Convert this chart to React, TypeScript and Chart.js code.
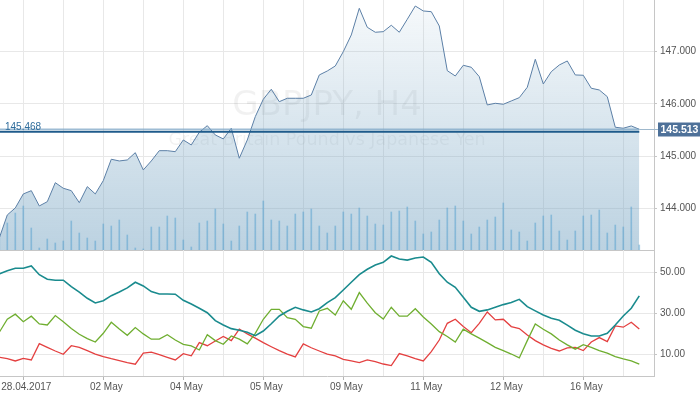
import React, { useEffect, useRef } from 'react';
import { Chart, registerables } from 'chart.js';
Chart.register(...registerables);

// ---- data ----
const xLabels = ['28.04.2017', '02 May', '04 May', '05 May', '09 May', '11 May', '12 May', '16 May'];
const xLabelIdx = [3, 13, 23, 33, 43, 53, 63, 73];
const xGridIdx = [3, 8, 13, 18, 23, 28, 33, 38, 43, 48, 53, 58, 63, 68, 73, 78];
const priceTicks = [144, 145, 146, 147];
const indTicks = [10, 30, 50];

const prices = [
  143.431, 143.872, 144.006, 144.274, 144.337, 144.044, 144.126, 144.49, 144.383, 144.337,
  144.107, 144.414, 144.274, 144.529, 144.939, 144.906, 144.925, 145.065, 144.734, 144.906,
  145.103, 145.103, 145.084, 145.308, 145.213, 145.456, 145.582, 145.404, 145.328, 145.533,
  144.958, 145.308, 145.755, 146.088, 146.28, 146.042, 146.107, 146.107, 146.107, 146.17,
  146.554, 146.63, 146.726, 147.0, 147.32, 147.831, 147.467, 147.372, 147.383, 147.506,
  147.372, 147.621, 147.875, 147.78, 147.766, 147.492, 146.636, 146.534, 146.739, 146.701,
  146.521, 145.979, 146.011, 145.992, 146.056, 146.119, 146.318, 146.854, 146.381, 146.617,
  146.745, 146.822, 146.554, 146.548, 146.299, 146.266, 146.138, 145.552, 145.533, 145.577,
  145.513,
];

const volumes = [
  1500, 1620, 2220, 2640, 1320, 120, 660, 420, 540, 1740,
  1020, 720, 540, 1560, 1440, 1800, 900, 120, 60, 1380,
  1380, 2040, 1920, 600, 180, 1620, 1740, 2460, 1560, 540,
  1440, 2280, 2160, 2940, 1800, 1740, 1440, 2160, 2280, 2460,
  1440, 1020, 1440, 2280, 2160, 2520, 2040, 1560, 1500, 2280,
  2340, 2580, 1740, 960, 1080, 1800, 2520, 2640, 1740, 960,
  1380, 1800, 1980, 2820, 1200, 1080, 540, 1620, 2040, 2100,
  1140, 600, 1140, 2040, 2100, 2400, 1020, 1500, 1380, 2580,
  300,
];

const adx = [
  49.4, 51.0, 52.2, 52.2, 53.3, 49.0, 46.8, 46.3, 46.3, 43.1,
  40.4, 37.4, 35.1, 36.2, 38.7, 40.5, 42.5, 45.3, 43.5, 40.7,
  39.5, 39.5, 39.4, 36.4, 34.6, 32.5, 30.3, 26.4, 24.3, 22.5,
  21.7, 20.7, 19.0, 21.3, 24.9, 28.7, 31.0, 33.0, 31.7, 30.7,
  32.3, 35.3, 37.7, 41.5, 45.3, 49.0, 51.7, 53.8, 55.1, 58.2,
  56.7, 56.2, 57.2, 57.7, 55.1, 49.5, 45.3, 42.8, 37.9, 33.0,
  31.0, 31.7, 33.0, 34.3, 35.3, 36.9, 33.3, 31.2, 29.2, 27.6,
  26.6, 24.2, 21.7, 20.0, 18.9, 18.9, 20.2, 24.3, 28.7, 32.5,
  38.6,
];

const plusDI = [
  20.7, 27.1, 29.6, 25.9, 28.6, 24.8, 24.3, 28.9, 25.9, 22.5,
  19.7, 17.6, 15.9, 20.2, 25.6, 22.3, 19.2, 23.0, 19.9, 17.3,
  17.3, 19.5, 16.9, 14.8, 14.0, 12.0, 19.5, 16.6, 14.8, 18.9,
  17.3, 15.0, 20.2, 27.1, 32.0, 32.0, 27.9, 27.1, 23.5, 22.7,
  31.2, 32.5, 29.2, 36.2, 32.0, 40.2, 35.0, 30.3, 27.2, 33.0,
  28.6, 28.6, 32.3, 28.2, 24.8, 21.0, 18.6, 15.9, 22.2, 19.9,
  17.8, 15.6, 13.3, 11.7, 10.0, 8.1, 16.6, 24.8, 22.2, 19.9,
  16.9, 14.5, 12.4, 14.6, 13.3, 11.7, 10.4, 8.7, 7.6, 6.6,
  5.0,
];

const minusDI = [
  8.4, 7.7, 6.6, 7.9, 7.1, 15.1, 13.3, 11.5, 9.9, 14.1,
  13.3, 11.7, 10.0, 8.7, 7.7, 6.8, 5.8, 5.0, 10.4, 10.9,
  9.7, 8.4, 7.1, 10.2, 9.1, 15.6, 14.1, 16.4, 18.6, 16.6,
  22.3, 19.9, 17.8, 15.6, 13.6, 11.7, 10.0, 8.6, 15.0, 13.1,
  11.5, 10.0, 9.1, 7.4, 6.6, 5.8, 7.1, 6.3, 5.1, 4.3,
  10.2, 9.1, 7.7, 6.6, 11.2, 16.9, 25.1, 27.1, 23.5, 20.5,
  25.1, 30.7, 26.8, 27.1, 23.5, 22.5, 19.4, 16.6, 14.5, 12.8,
  11.5, 13.0, 13.3, 11.7, 15.9, 18.1, 16.1, 23.8, 23.2, 25.6,
  22.3,
];

const lastPrice = 145.513;
const levelPrice = 145.468;
const titleText = 'GBPJPY, H4';
const subtitleText = 'Great Britain Pound vs Japanese Yen';

// ---- style ----
const FONT = '"Liberation Sans", Arial, sans-serif';
const WM_FONT = '"DejaVu Sans", sans-serif';
const GRID = '#e8e8e8';
const AXIS = '#c6c6c6';
const TICK_TXT = '#555555';
const X_MIN = 0.0875;
const X_MAX = 81.84;
const AXIS_W = 46;

const pts = (arr: number[]) => arr.map((v, i) => ({ x: i, y: v }));

const noPad = (s: any) => {
  s.paddingTop = 0;
  s.paddingBottom = 0;
  s.paddingLeft = 0;
  s.paddingRight = 0;
};

export default function App() {
  const topRef = useRef<HTMLCanvasElement>(null);
  const botRef = useRef<HTMLCanvasElement>(null);

  useEffect(() => {
    document.body.style.margin = '0';

    const watermark = {
      id: 'watermark',
      beforeDatasetsDraw(chart: any) {
        const { ctx, chartArea } = chart;
        const cx = (chartArea.left + chartArea.right) / 2;
        ctx.save();
        ctx.fillStyle = 'rgba(0,0,0,0.055)';
        ctx.textAlign = 'center';
        ctx.textBaseline = 'alphabetic';
        ctx.font = `34px ${WM_FONT}`;
        ctx.fillText(titleText, cx, 115);
        ctx.font = `17.5px ${WM_FONT}`;
        ctx.fillText(subtitleText, cx, 145);
        ctx.restore();
      },
    };

    const priceLines = {
      id: 'priceLines',
      afterDatasetsDraw(chart: any) {
        const { ctx, chartArea, scales } = chart;
        const y1 = scales.y.getPixelForValue(lastPrice);
        const y2 = scales.y.getPixelForValue(levelPrice);
        const xEnd = scales.x.getPixelForValue(prices.length - 1);
        ctx.save();
        // last price line
        ctx.strokeStyle = 'rgba(125,165,198,0.75)';
        ctx.lineWidth = 1.5;
        ctx.beginPath();
        ctx.moveTo(chartArea.left, y1);
        ctx.lineTo(xEnd, y1);
        ctx.stroke();
        ctx.strokeStyle = '#9fb8cc';
        ctx.lineWidth = 1;
        ctx.beginPath();
        ctx.moveTo(xEnd, Math.round(y1) + 0.5);
        ctx.lineTo(chartArea.right + 4, Math.round(y1) + 0.5);
        ctx.stroke();
        // level line
        ctx.strokeStyle = '#1f5b8b';
        ctx.lineWidth = 2;
        ctx.beginPath();
        ctx.moveTo(chartArea.left, y2);
        ctx.lineTo(xEnd, y2);
        ctx.stroke();
        ctx.fillStyle = '#2f6d9c';
        ctx.font = `10px ${FONT}`;
        ctx.textAlign = 'left';
        ctx.textBaseline = 'alphabetic';
        ctx.fillText(levelPrice.toFixed(3), 5, y2 - 1.5);
        // price box
        ctx.fillStyle = '#4e7199';
        ctx.fillRect(chartArea.right + 4, Math.round(y1) - 6.5, AXIS_W - 4, 14);
        ctx.fillStyle = '#ffffff';
        ctx.font = `bold 10.5px ${FONT}`;
        ctx.textBaseline = 'middle';
        ctx.fillText(lastPrice.toFixed(3), chartArea.right + 6.5, Math.round(y1) + 1);
        ctx.restore();
      },
    };

    const top = new Chart(topRef.current as HTMLCanvasElement, {
      type: 'line',
      data: {
        datasets: [
          {
            type: 'line',
            data: pts(prices),
            yAxisID: 'y',
            borderColor: '#5b7fa6',
            borderWidth: 1,
            pointRadius: 0,
            tension: 0,
            fill: 'start',
            backgroundColor: (c: any) => {
              const area = c.chart.chartArea;
              if (!area) return 'rgba(120,165,195,0.3)';
              const g = c.chart.ctx.createLinearGradient(0, area.top, 0, area.bottom);
              g.addColorStop(0, 'rgba(120,165,195,0.06)');
              g.addColorStop(1, 'rgba(120,165,195,0.5)');
              return g;
            },
            order: 2,
          } as any,
          {
            type: 'bar',
            data: pts(volumes),
            yAxisID: 'vol',
            backgroundColor: 'rgba(80,158,205,0.5)',
            barThickness: 1,
            order: 1,
          } as any,
        ],
      },
      options: {
        animation: false,
        responsive: false,
        maintainAspectRatio: false,
        layout: { padding: 0 },
        plugins: { legend: { display: false }, tooltip: { enabled: false } },
        scales: {
          x: {
            type: 'linear',
            min: X_MIN,
            max: X_MAX,
            offset: false,
            afterBuildTicks: (s: any) => {
              s.ticks = xGridIdx.map((v) => ({ value: v }));
            },
            ticks: { display: false },
            grid: { color: GRID, drawTicks: false, offset: false },
            border: { color: AXIS },
            afterFit: (s: any) => {
              s.height = 1;
              noPad(s);
            },
          },
          y: {
            position: 'right',
            min: 143.2,
            max: 147.99,
            afterBuildTicks: (s: any) => {
              s.ticks = priceTicks.map((v) => ({ value: v }));
            },
            ticks: {
              callback: (v: any) => Number(v).toFixed(3),
              color: TICK_TXT,
              font: { family: FONT, size: 10 },
              padding: 3,
            },
            grid: { color: GRID, tickLength: 3, tickColor: AXIS },
            border: { color: AXIS },
            afterFit: (s: any) => {
              s.width = AXIS_W;
              noPad(s);
            },
          },
          vol: { display: false, min: 0, max: 15000 },
        } as any,
      },
      plugins: [watermark, priceLines],
    });

    const bot = new Chart(botRef.current as HTMLCanvasElement, {
      type: 'line',
      data: {
        datasets: [
          { data: pts(adx), borderColor: '#1a8b8e', borderWidth: 1.6, pointRadius: 0, tension: 0 },
          { data: pts(plusDI), borderColor: '#6fae30', borderWidth: 1.3, pointRadius: 0, tension: 0 },
          { data: pts(minusDI), borderColor: '#e44040', borderWidth: 1.3, pointRadius: 0, tension: 0 },
        ],
      },
      options: {
        animation: false,
        responsive: false,
        maintainAspectRatio: false,
        layout: { padding: 0 },
        plugins: { legend: { display: false }, tooltip: { enabled: false } },
        scales: {
          x: {
            type: 'linear',
            min: X_MIN,
            max: X_MAX,
            offset: false,
            afterBuildTicks: (s: any) => {
              s.ticks = xGridIdx.map((v) => ({ value: v }));
            },
            ticks: {
              autoSkip: false,
              maxRotation: 0,
              minRotation: 0,
              labelOffset: 3,
              padding: 1,
              color: TICK_TXT,
              font: { family: FONT, size: 10 },
              callback: (v: any) => {
                const k = xLabelIdx.indexOf(Number(v));
                return k >= 0 ? xLabels[k] : '';
              },
            },
            grid: {
              color: GRID,
              tickLength: 4,
              tickColor: (c: any) =>
                c.tick && xLabelIdx.indexOf(c.tick.value) >= 0 ? '#b5b5b5' : 'rgba(0,0,0,0)',
            },
            border: { color: AXIS },
            afterFit: (s: any) => {
              s.height = 18;
              noPad(s);
            },
          },
          y: {
            position: 'right',
            min: -0.8,
            max: 61.15,
            afterBuildTicks: (s: any) => {
              s.ticks = indTicks.map((v) => ({ value: v }));
            },
            ticks: {
              callback: (v: any) => Number(v).toFixed(2),
              color: TICK_TXT,
              font: { family: FONT, size: 10 },
              padding: 3,
            },
            grid: { color: GRID, tickLength: 3, tickColor: AXIS },
            border: { color: AXIS },
            afterFit: (s: any) => {
              s.width = AXIS_W;
              noPad(s);
            },
          },
        } as any,
      },
    });

    return () => {
      top.destroy();
      bot.destroy();
    };
  }, []);

  return (
    <div style={{ position: 'fixed', left: 0, top: 0, width: 700, height: 394, background: '#ffffff' }}>
      <canvas ref={topRef} width={700} height={251} style={{ position: 'absolute', left: 0, top: 0 }} />
      <canvas ref={botRef} width={700} height={144} style={{ position: 'absolute', left: 0, top: 250 }} />
    </div>
  );
}
